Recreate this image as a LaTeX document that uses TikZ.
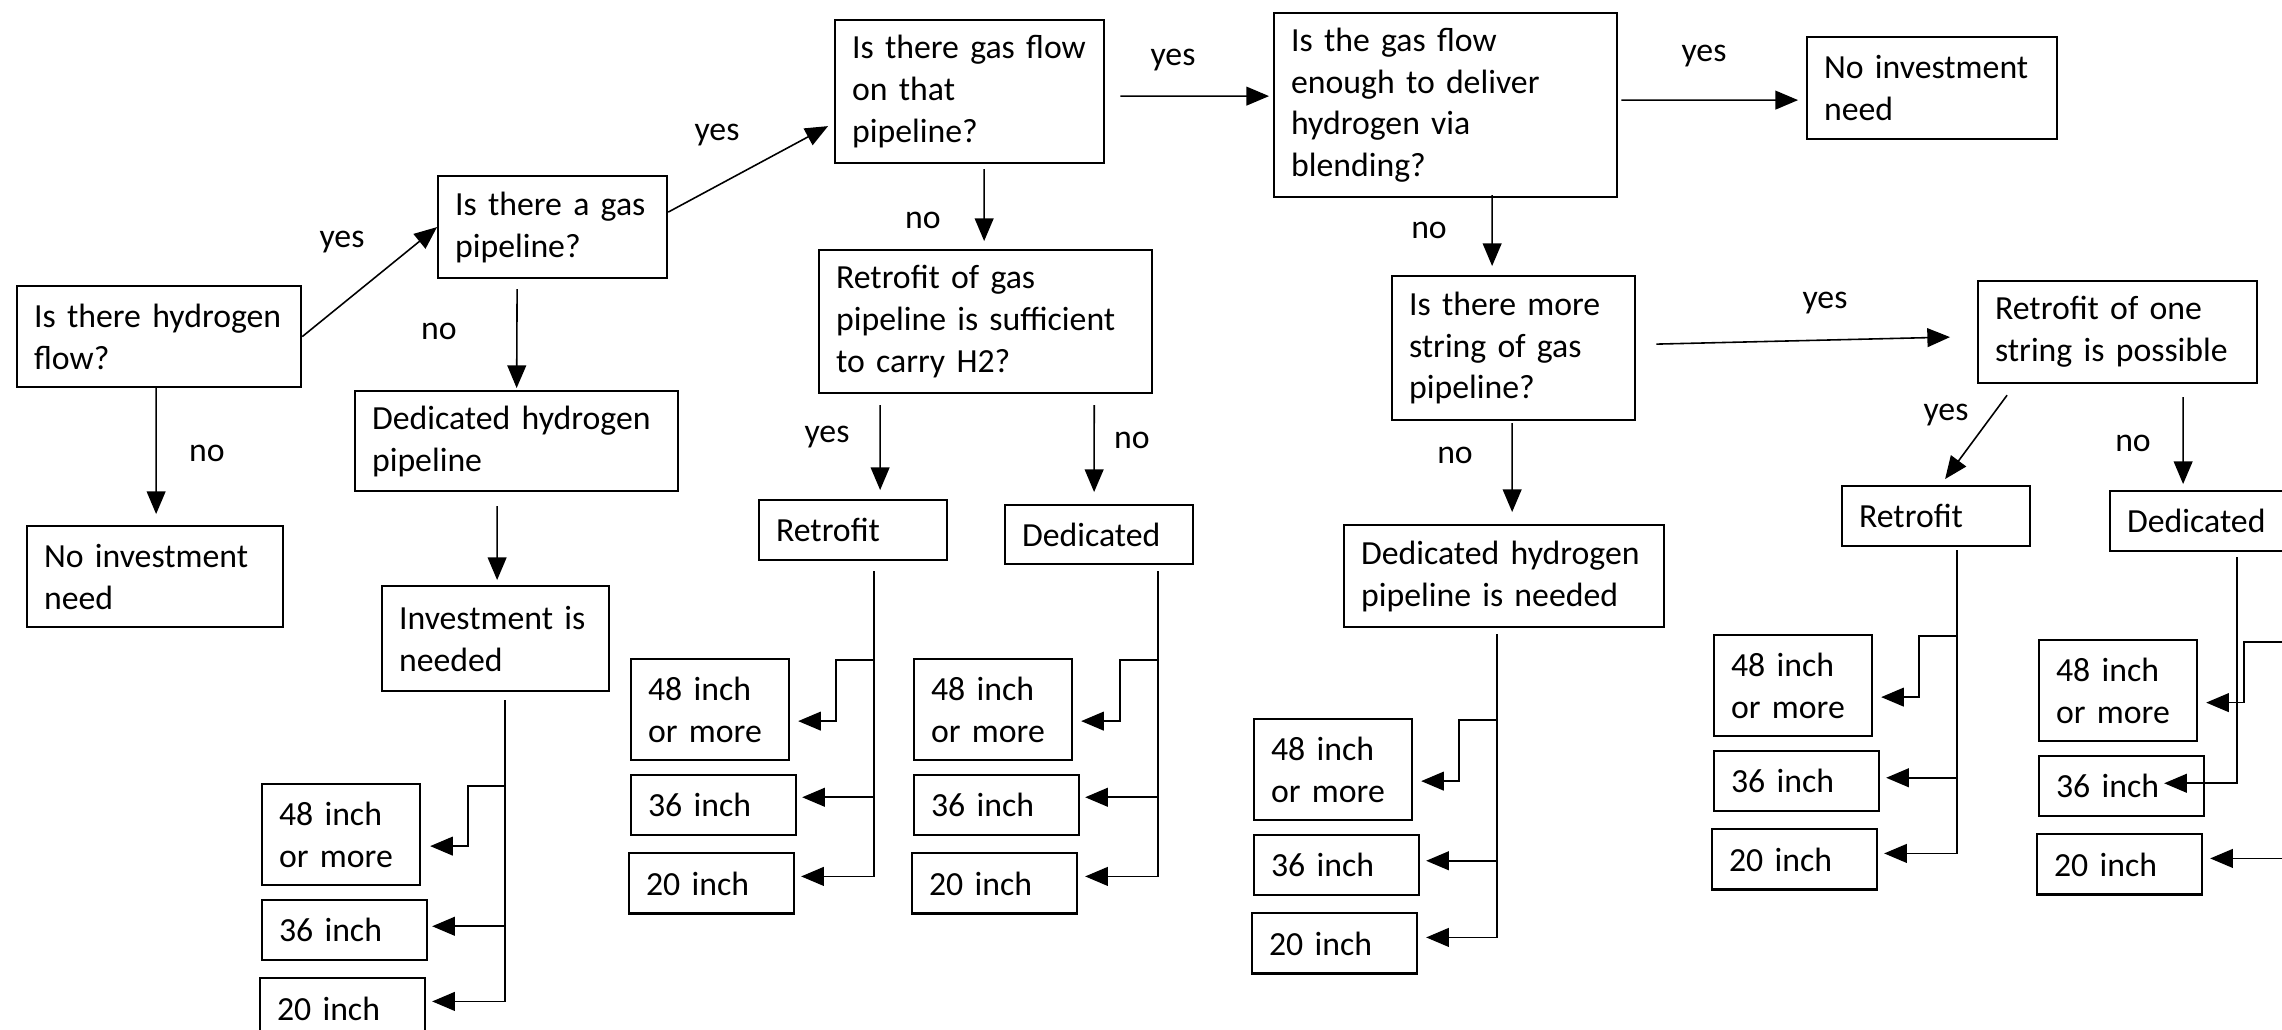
\documentclass[tikz,border=0pt]{standalone}
\usepackage{fontspec}
\setmainfont{Carlito}
\usetikzlibrary{arrows,positioning}

\begin{document}
\begin{tikzpicture}[x=0.01cm,y=-0.01cm,>=triangle 45,line width=0.45pt]
	\tikzstyle{box}=[rectangle, draw=black, line width=0.6pt, anchor=north west, align=left, inner xsep=0.17cm, inner ysep=0pt, font=\fontsize{9.6}{11.9}\selectfont]
	\tikzstyle{size tall}=[box, text width=1.24cm, minimum height=1.01cm]
	\tikzstyle{size short}=[box, text width=1.31cm, minimum height=0.60cm]
	\tikzstyle{answer}=[inner sep=0pt, font=\fontsize{9.6}{11.9}\selectfont]

	\useasboundingbox (0,0) rectangle (2282,1029);

	% questions and outcomes
	\node [box, text width=2.50cm, minimum height=1.01cm] (hflow) at (16,285) {Is there hydrogen\\flow?};
	\node [box, text width=1.95cm, minimum height=1.02cm] (gpipe) at (437,175) {Is there a gas\\pipeline?};
	\node [box, text width=2.35cm, minimum height=1.43cm] (gflow) at (834,19) {Is there gas flow\\on that\\pipeline?};
	\node [box, text width=2.99cm, minimum height=1.43cm] (enough) at (818,249) {Retrofit of gas\\pipeline is sufficient\\to carry H2?};
	\node [box, text width=2.89cm, minimum height=1.00cm] (dedpipe) at (354,390) {Dedicated hydrogen\\pipeline};
	\node [box, text width=2.22cm, minimum height=1.01cm] (noinv) at (26,525) {No investment\\need};
	\node [box, text width=1.93cm, minimum height=1.05cm] (inv) at (381,585) {Investment is\\needed};
	\node [box, text width=1.54cm, minimum height=0.60cm] (retro) at (758,499) {Retrofit};
	\node [box, text width=1.54cm, minimum height=0.59cm] (dedic) at (1004,504) {Dedicated};
	\node [box, text width=3.09cm, minimum height=1.84cm] (blend) at (1273,12) {Is the gas flow\\enough to deliver\\hydrogen via\\blending?};
	\node [box, text width=2.16cm, minimum height=1.02cm] (noinvb) at (1806,36) {No investment\\need};
	\node [box, text width=2.09cm, minimum height=1.44cm] (morestr) at (1391,275) {Is there more\\string of gas\\pipeline?};
	\node [box, text width=2.45cm, minimum height=1.02cm] (onestr) at (1977,280) {Retrofit of one\\string is possible};
	\node [box, text width=2.86cm, minimum height=1.02cm] (dedneed) at (1343,524) {Dedicated hydrogen\\pipeline is needed};
	\node [box, text width=1.54cm, minimum height=0.60cm] (retrob) at (1841,485) {Retrofit};
	\node [box, text width=1.54cm, minimum height=0.60cm] (dedicb) at (2109,490) {Dedicated};

	% pipe sizes
	\node [size tall] (inv48) at (261,783) {48 inch\\or more};
	\node [size short] (inv36) [below=0.13cm of inv48.south west, anchor=north west] {36 inch};
	\node [size short] (inv20) [below=0.16cm of inv36.south west, anchor=north west, xshift=-0.02cm] {20 inch};
	\node [size tall] (ret48) at (630,658) {48 inch\\or more};
	\node [size short] (ret36) [below=0.13cm of ret48.south west, anchor=north west] {36 inch};
	\node [size short] (ret20) [below=0.16cm of ret36.south west, anchor=north west, xshift=-0.02cm] {20 inch};
	\node [size tall] (ded48) at (913,658) {48 inch\\or more};
	\node [size short] (ded36) [below=0.13cm of ded48.south west, anchor=north west] {36 inch};
	\node [size short] (ded20) [below=0.16cm of ded36.south west, anchor=north west, xshift=-0.02cm] {20 inch};
	\node [size tall] (need48) at (1253,718) {48 inch\\or more};
	\node [size short] (need36) [below=0.13cm of need48.south west, anchor=north west] {36 inch};
	\node [size short] (need20) [below=0.16cm of need36.south west, anchor=north west, xshift=-0.02cm] {20 inch};
	\node [size tall] (retb48) at (1713,634) {48 inch\\or more};
	\node [size short] (retb36) [below=0.13cm of retb48.south west, anchor=north west] {36 inch};
	\node [size short] (retb20) [below=0.16cm of retb36.south west, anchor=north west, xshift=-0.02cm] {20 inch};
	\node [size tall] (dedb48) at (2038,639) {48 inch\\or more};
	\node [size short] (dedb36) [below=0.13cm of dedb48.south west, anchor=north west] {36 inch};
	\node [size short] (dedb20) [below=0.16cm of dedb36.south west, anchor=north west, xshift=-0.02cm] {20 inch};

	% yes / no
	\node [answer] (yhflow) at (342,242) {yes};
	\node [answer] (nhflow) at (207,453) {no};
	\node [answer] (ygpipe) at (717,135) {yes};
	\node [answer] (ngpipe) at (439,331) {no};
	\node [answer] (ygflow) at (1173,60) {yes};
	\node [answer] (ngflow) at (923,220) {no};
	\node [answer] (yenough) at (827,437) {yes};
	\node [answer] (nenough) at (1132,440) {no};
	\node [answer] (yblend) at (1704,56) {yes};
	\node [answer] (nblend) at (1429,230) {no};
	\node [answer] (ymorestr) at (1825,303) {yes};
	\node [answer] (nmorestr) at (1455,455) {no};
	\node [answer] (yonestr) at (1946,415) {yes};
	\node [answer] (nonestr) at (2133,443) {no};

	% decisions
	\draw [->] (hflow.east) -- (gpipe.west);
	\draw [->] ([xshift=-0.03cm]hflow.south) -- ([xshift=0.01cm,yshift=0.11cm]noinv.north);
	\draw [->] ([yshift=0.15cm]gpipe.east) -- ([xshift=-0.06cm,yshift=-0.345cm]gflow.west);
	\draw [->] ([xshift=-0.355cm,yshift=-0.10cm]gpipe.south) -- ([yshift=0.02cm]dedpipe.north);
	\draw [->] ([xshift=-0.195cm,yshift=-0.14cm]dedpipe.south) -- ([xshift=0.015cm,yshift=0.05cm]inv.north);
	\draw [->] ([xshift=0.15cm,yshift=-0.045cm]gflow.east) -- ([xshift=-0.04cm,yshift=0.09cm]blend.west);
	\draw [->] ([xshift=0.145cm,yshift=-0.05cm]gflow.south) -- ([xshift=-0.015cm,yshift=0.08cm]enough.north);
	\draw [->] ([xshift=-1.055cm,yshift=-0.11cm]enough.south) -- ([xshift=0.27cm,yshift=0.09cm]retro.north);
	\draw [->] ([xshift=1.085cm,yshift=-0.11cm]enough.south) -- ([xshift=-0.05cm,yshift=0.12cm]dedic.north);
	\draw [->] ([xshift=0.03cm,yshift=0.05cm]blend.east) -- ([xshift=-0.08cm,yshift=-0.12cm]noinvb.west);
	\draw [->] ([xshift=0.465cm,yshift=0.03cm]blend.south) -- ([xshift=-0.215cm,yshift=0.09cm]morestr.north);
	\draw [->] ([xshift=0.2cm,yshift=0.04cm]morestr.east) -- ([xshift=-0.27cm,yshift=-0.05cm]onestr.west);
	\draw [->] ([xshift=-0.015cm,yshift=-0.02cm]morestr.south) -- ([xshift=0.08cm,yshift=0.12cm]dedneed.north);
	\draw [->] ([xshift=-1.105cm,yshift=-0.11cm]onestr.south) -- ([xshift=0.09cm,yshift=0.06cm]retrob.north);
	\draw [->] ([xshift=0.655cm,yshift=-0.13cm]onestr.south) -- ([xshift=-0.21cm,yshift=0.06cm]dedicb.north);

	% size branches
	\coordinate (tinv) at ([xshift=0.095cm,yshift=-0.08cm]inv.south);
	\draw [->, shorten >=0.09cm] (tinv) |- ([xshift=0.47cm,yshift=-0.03cm]inv48.north east) |- ([yshift=-0.115cm]inv48.east);
	\draw [->, shorten >=0.04cm] (tinv) |- ([yshift=0.04cm]inv36.east);
	\draw [->, shorten >=0.06cm] (tinv) |- ([yshift=0.07cm]inv20.east);

	\coordinate (tret) at ([xshift=0.21cm,yshift=-0.10cm]retro.south);
	\draw [->, shorten >=0.08cm] (tret) |- ([xshift=0.46cm,yshift=-0.02cm]ret48.north east) |- ([yshift=-0.115cm]ret48.east);
	\draw [->, shorten >=0.05cm] (tret) |- ([yshift=0.08cm]ret36.east);
	\draw [->, shorten >=0.06cm] (tret) |- ([yshift=0.07cm]ret20.east);

	\coordinate (tded) at ([xshift=0.59cm,yshift=-0.06cm]dedic.south);
	\draw [->, shorten >=0.08cm] (tded) |- ([xshift=0.47cm,yshift=-0.02cm]ded48.north east) |- ([yshift=-0.115cm]ded48.east);
	\draw [->, shorten >=0.05cm] (tded) |- ([yshift=0.08cm]ded36.east);
	\draw [->, shorten >=0.07cm] (tded) |- ([yshift=0.07cm]ded20.east);

	\coordinate (tneed) at ([xshift=-0.07cm,yshift=-0.06cm]dedneed.south);
	\draw [->, shorten >=0.08cm] (tneed) |- ([xshift=0.46cm,yshift=-0.02cm]need48.north east) |- ([yshift=-0.115cm]need48.east);
	\draw [->, shorten >=0.06cm] (tneed) |- ([yshift=0.045cm]need36.east);
	\draw [->, shorten >=0.08cm] (tneed) |- ([yshift=0.06cm]need20.east);

	\coordinate (tretb) at ([xshift=0.21cm,yshift=-0.03cm]retrob.south);
	\draw [->, shorten >=0.08cm] (tretb) |- ([xshift=0.46cm,yshift=-0.02cm]retb48.north east) |- ([yshift=-0.115cm]retb48.east);
	\draw [->, shorten >=0.06cm] (tretb) |- ([yshift=0.035cm]retb36.east);
	\draw [->, shorten >=0.06cm] (tretb) |- ([yshift=0.06cm]retb20.east);

	\coordinate (tdedb) at ([xshift=0.33cm,yshift=-0.05cm]dedicb.south);
	\coordinate (tdedc) at ([xshift=0.85cm,yshift=-0.03cm]dedb48.north east);
	\draw [->] (tdedb) |- ([xshift=-0.41cm,yshift=0.03cm]dedb36.east);
	\draw [->, shorten >=0.08cm] (tdedc) -| ([xshift=0.46cm,yshift=-0.12cm]dedb48.east) -- ([yshift=-0.12cm]dedb48.east);
	\draw [->, shorten >=0.07cm] (tdedc) |- ([yshift=0.06cm]dedb20.east);
\end{tikzpicture}
\end{document}
